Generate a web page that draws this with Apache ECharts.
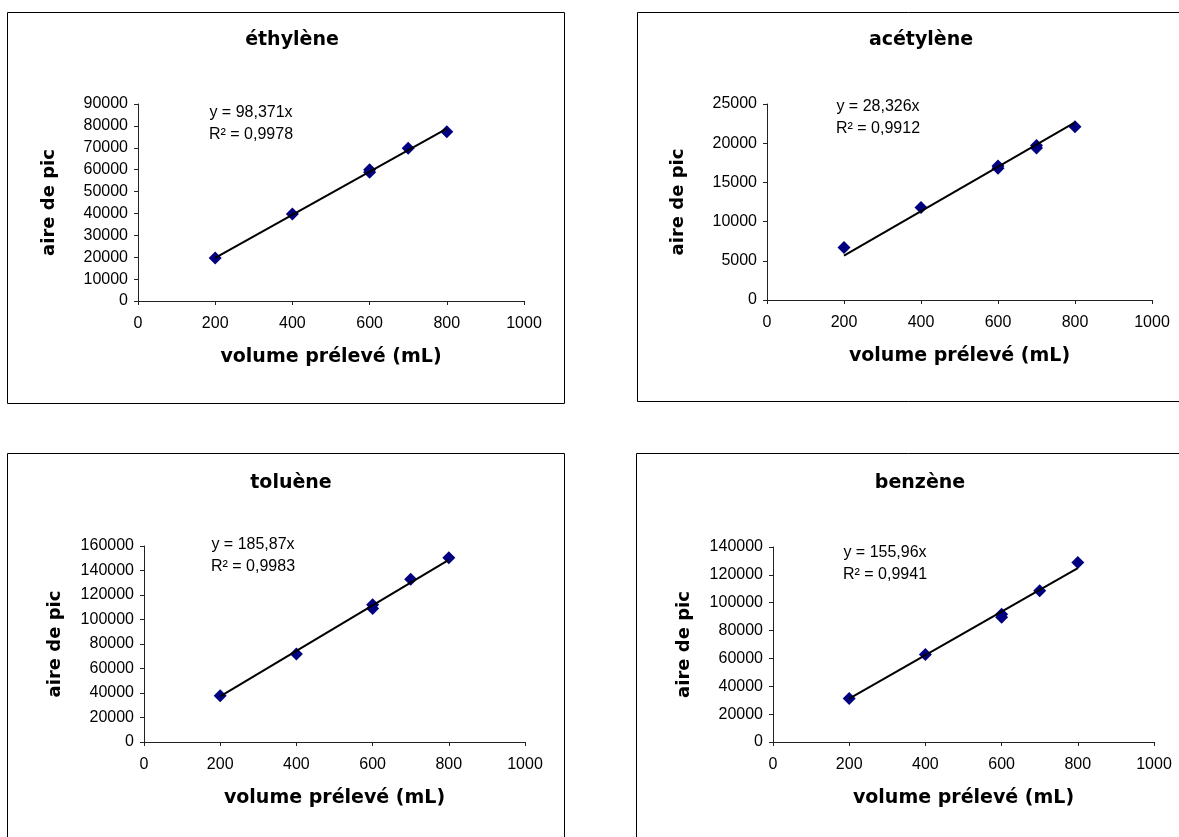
<!DOCTYPE html>
<html>
<head>
<meta charset="utf-8">
<script src="https://cdn.jsdelivr.net/npm/echarts@6/dist/echarts.min.js"></script>
<style>
  html, body { margin: 0; padding: 0; background: #fff; }
  #main { width: 1179px; height: 837px; }
</style>
</head>
<body>
<div id="main"></div>
<script>
// chart titles and labels
var titles = ['éthylène', 'acétylène', 'toluène', 'benzène'];
var equations = [
    ['y = 98,371x', 'R² = 0,9978'],
    ['y = 28,326x', 'R² = 0,9912'],
    ['y = 185,87x', 'R² = 0,9983'],
    ['y = 155,96x', 'R² = 0,9941']
];
var xName = 'volume prélevé (mL)';
var yName = 'aire de pic';

// x ticks and y ranges
var xMax = 1000, xStep = 200;
var yMax = [90000, 25000, 160000, 140000];
var yStep = [10000, 5000, 20000, 20000];

// measured points [volume, area]
var ethylene = [[200, 19700], [400, 39700], [600, 60000], [600, 58800], [700, 69800], [800, 77300]];
var acetylene = [[200, 6700], [400, 11800], [600, 17100], [600, 16800], [700, 19700], [700, 19400], [800, 22100]];
var toluene = [[200, 37800], [400, 71800], [600, 112000], [600, 109000], [700, 132800], [800, 150400]];
var benzene = [[200, 31200], [400, 62900], [600, 91800], [600, 89500], [700, 108600], [800, 128800]];

// trend line ends (y = a x)
var ethyleneTrend = [[200, 19674], [800, 78697]];
var acetyleneTrend = [[200, 5665], [800, 22661]];
var tolueneTrend = [[200, 37174], [800, 148696]];
var benzeneTrend = [[200, 31192], [800, 124768]];

var points = [ethylene, acetylene, toluene, benzene];
var trends = [ethyleneTrend, acetyleneTrend, tolueneTrend, benzeneTrend];

// panel layout (pixels)
var grids = [
    { left: 138, top: 104, width: 386, height: 197 },
    { left: 767, top: 104, width: 385, height: 196 },
    { left: 144, top: 546, width: 381, height: 196 },
    { left: 773, top: 547, width: 381, height: 195 }
];
var boxes = [
    { x: 7.5, y: 12.5, width: 557, height: 391 },
    { x: 637.5, y: 12.5, width: 600, height: 389 },
    { x: 7.5, y: 453.5, width: 557, height: 420 },
    { x: 636.5, y: 453.5, width: 600, height: 420 }
];
var titlePos = [[287, 40], [916, 40], [286, 483], [915, 483]];
var eqPos = [[246, 113], [873, 107], [248, 545], [880, 553]];

var labelFont = 'Liberation Sans';
var boldFont = 'DejaVu Sans';

var chartDom = document.getElementById('main');
var myChart = echarts.init(chartDom);
var option;

var xAxes = [], yAxes = [], series = [], titleList = [], graphics = [];

function plain(v) {
    return String(v);
}

for (var i = 0; i < 4; i++) {
    xAxes.push({
        type: 'value',
        gridIndex: i,
        min: 0,
        max: xMax,
        interval: xStep,
        name: xName,
        nameLocation: 'middle',
        nameGap: 47,
        nameTextStyle: { fontFamily: boldFont, fontWeight: 'bold', fontSize: 19, color: '#000' },
        axisLine: { lineStyle: { color: '#222', width: 1 } },
        axisTick: { length: 4, lineStyle: { color: '#222' } },
        axisLabel: { fontFamily: labelFont, fontSize: 16, color: '#000', margin: 15, formatter: plain },
        splitLine: { show: false }
    });
    yAxes.push({
        type: 'value',
        gridIndex: i,
        min: 0,
        max: yMax[i],
        interval: yStep[i],
        name: yName,
        nameLocation: 'middle',
        nameGap: 80,
        nameTextStyle: { fontFamily: boldFont, fontWeight: 'bold', fontSize: 18, color: '#000' },
        axisLine: { show: true, lineStyle: { color: '#222', width: 1 } },
        axisTick: { show: true, length: 4, lineStyle: { color: '#222' } },
        axisLabel: { fontFamily: labelFont, fontSize: 16, color: '#000', margin: 10, formatter: plain },
        splitLine: { show: false }
    });
    series.push({
        type: 'scatter',
        xAxisIndex: i,
        yAxisIndex: i,
        data: points[i],
        symbol: 'diamond',
        symbolSize: 13,
        itemStyle: { color: '#000080', opacity: 1 },
        z: 2
    });
    series.push({
        type: 'line',
        xAxisIndex: i,
        yAxisIndex: i,
        data: trends[i],
        showSymbol: false,
        lineStyle: { color: '#000', width: 2 },
        z: 3
    });
    titleList.push({
        text: titles[i],
        left: titlePos[i][0],
        top: titlePos[i][1] - 11 - 5,
        textAlign: 'center',
        textStyle: { fontFamily: boldFont, fontWeight: 'bold', fontSize: 19, color: '#000', lineHeight: 22 }
    });
    titleList.push({
        text: equations[i].join('\n'),
        left: eqPos[i][0],
        top: eqPos[i][1] - 11 - 5,
        textAlign: 'center',
        textStyle: { fontFamily: labelFont, fontWeight: 'normal', fontSize: 16, color: '#000', lineHeight: 22, align: 'center' }
    });
    graphics.push({
        type: 'rect',
        shape: boxes[i],
        style: { fill: null, stroke: '#000', lineWidth: 1 },
        z: -1
    });
}

option = {
    backgroundColor: '#fff',
    animation: false,
    title: titleList,
    grid: grids,
    xAxis: xAxes,
    yAxis: yAxes,
    series: series,
    graphic: graphics
};

option && myChart.setOption(option);
</script>
</body>
</html>
